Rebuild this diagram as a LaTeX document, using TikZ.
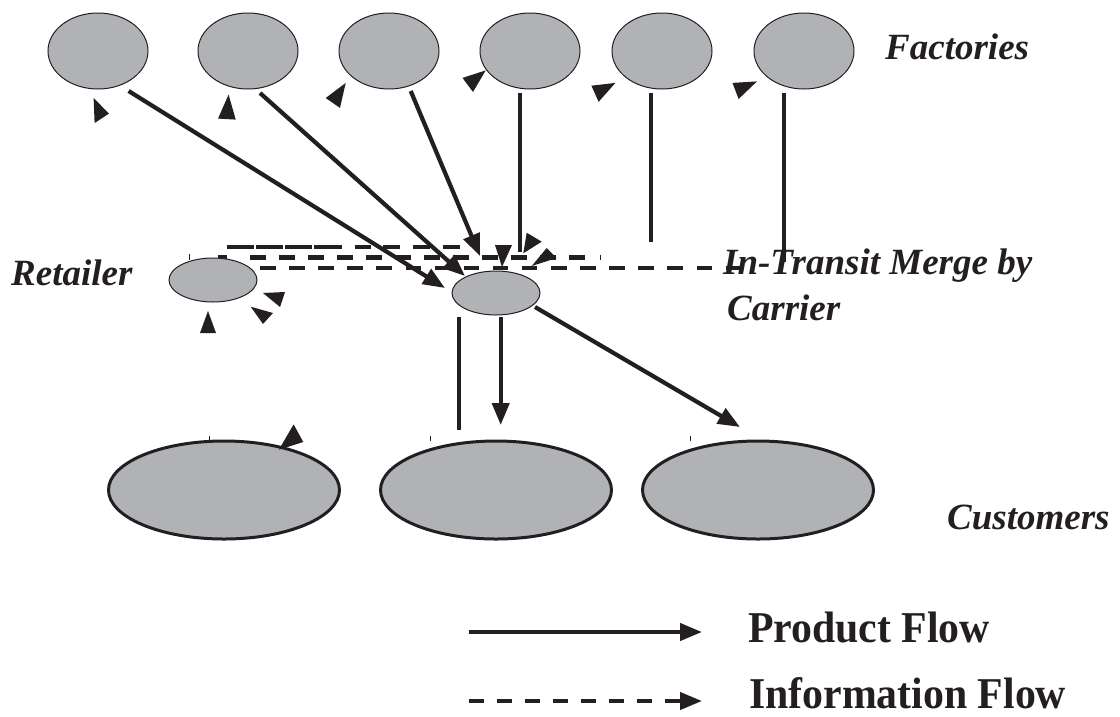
\documentclass[tikz,border=0pt]{standalone}
\usepackage{fontspec}
\setmainfont{Liberation Serif}
\newfontfamily\legendfont[FakeStretch=0.95]{Liberation Serif}
\usetikzlibrary{shapes.geometric,arrows.meta}
\definecolor{ink}{RGB}{35,31,32}
\definecolor{nodegray}{RGB}{177,178,182}
\begin{document}
\begin{tikzpicture}[x=1pt,y=-1pt,
 fac/.style={ellipse,draw=ink,fill=nodegray,line width=1pt,minimum width=100pt,minimum height=76pt,inner sep=0pt},
 smallnode/.style={ellipse,draw=ink,fill=nodegray,line width=1pt,minimum width=88pt,minimum height=44pt,inner sep=0pt},
 cust/.style={ellipse,draw=ink,fill=nodegray,line width=3pt,minimum width=231pt,minimum height=98pt,inner sep=0pt},
 prod/.style={draw=ink,line width=4.2pt},
 prodarrow/.style={prod,-{Triangle[length=22pt,width=17pt]}},
 info/.style={draw=ink,line width=4.2pt,dash pattern=on 16pt off 13pt},
 head/.style={fill=ink},
 lab/.style={font=\fontsize{37}{40}\selectfont\bfseries\itshape,text=ink,inner sep=0pt,anchor=base west},
 leg/.style={font=\legendfont\fontsize{44}{46}\selectfont\bfseries,text=ink,inner sep=0pt,anchor=base west},
 ticker/.style={draw=ink,line width=0.7pt}]
\useasboundingbox (0,0) rectangle (1120,716);

% information flow dashed rows
\draw[info,dash pattern=on 27pt off 2pt on 27pt off 2pt on 27pt off 2pt on 28pt off 13pt on 16pt off 12pt on 17pt off 13pt on 17pt off 13pt on 17pt] (227,247) coordinate (r1a) -- (460,247) coordinate (r1b);
\draw[draw=ink,line width=4.2pt] (218,257.5) coordinate (r2m) -- (227,257.5) coordinate (r2n);
\draw[info] (250,257.5) coordinate (r2a) -- (587,257.5) coordinate (r2b);
\draw[info,dash pattern=on 15.5pt off 13.6pt] (260,268) coordinate (r3a) -- (742,268) coordinate (r3b);
\draw[ticker] (189,254) coordinate (t1a) -- (189,260) coordinate (t1b);
\draw[ticker] (600,255) coordinate (t2a) -- (600,260) coordinate (t2b);

% nodes
\node[fac] (F1) at (98,51) {};
\node[fac] (F2) at (248,51) {};
\node[fac] (F3) at (389,51) {};
\node[fac] (F4) at (530,51) {};
\node[fac] (F5) at (662,51) {};
\node[fac] (F6) at (804,51) {};
\node[smallnode] (R) at (213,280) {};
\node[smallnode] (M) at (496,293) {};
\node[cust] (C1) at (224,490) {};
\node[cust] (C2) at (496,490) {};
\node[cust] (C3) at (758,490) {};

% product flow connectors
\coordinate (f1s) at (128.6,91);  \coordinate (f1e) at (445,288);
\coordinate (f2s) at (260,93);    \coordinate (f2e) at (465,276);
\coordinate (f3s) at (410.7,91);  \coordinate (f3e) at (480,256);
\coordinate (f4s) at (519.6,93);  \coordinate (f4e) at (519.6,252);
\coordinate (f5s) at (650.7,93);  \coordinate (f5e) at (650.7,242);
\coordinate (f6s) at (784,93);    \coordinate (f6e) at (784,262);
\draw[prodarrow] (f1s) -- (f1e);
\draw[prodarrow] (f2s) -- (f2e);
\draw[prodarrow] (f3s) -- (f3e);
\draw[prod] (f4s) -- (f4e);
\draw[prod] (f5s) -- (f5e);
\draw[prod] (f6s) -- (f6e);
\coordinate (m1s) at (459.3,317); \coordinate (m1e) at (459.3,430);
\coordinate (m2s) at (500.7,317); \coordinate (m2e) at (500.7,425);
\coordinate (m3s) at (535,307);   \coordinate (m3e) at (740,427);
\draw[prod] (m1s) -- (m1e);
\draw[prodarrow] (m2s) -- (m2e);
\draw[prodarrow] (m3s) -- (m3e);

% stray arrowheads
\fill[head] (93.6,98) -- (109,113.6) -- (94.6,123) -- cycle;
\fill[head] (218,118.6) -- (228.6,94.6) -- (235.7,119.6) -- cycle;
\fill[head] (325.7,98) -- (345.7,82.9) -- (340,107.9) -- cycle;
\fill[head] (462.5,77.9) -- (485.7,70.4) -- (473,92) -- cycle;
\fill[head] (591.4,85.7) -- (615.4,82.9) -- (598.6,101.8) -- cycle;
\fill[head] (732.5,82.9) -- (757,81.4) -- (738.6,99) -- cycle;
\fill[head] (495,245) -- (512,245) -- (502,267) -- cycle;
\fill[head] (526.7,232.7) -- (541.7,241.7) -- (523.3,253.3) -- cycle;
\fill[head] (546.7,248) -- (556.7,258) -- (531.7,266) -- cycle;
\fill[head] (263,293) -- (285,292) -- (280,307) -- cycle;
\fill[head] (250.7,306.7) -- (273,313) -- (263,324) -- cycle;
\fill[head] (208,311) -- (200,333) -- (216,333) -- cycle;
\fill[head] (278.9,449.7) -- (293.6,424.4) -- (303.3,442) -- cycle;

% ticks above customers
\draw[ticker] (209,436) coordinate (k1a) -- (209,441) coordinate (k1b);
\draw[ticker] (430,436) coordinate (k2a) -- (430,441) coordinate (k2b);
\draw[ticker] (690,436) coordinate (k3a) -- (690,441) coordinate (k3b);

% labels
\node[lab] (tfac) at (885,59) {Factories};
\node[lab] (tret) at (11,285) {Retailer};
\node[lab] (tmerge) at (723,274) {In-Transit Merge by};
\node[lab] (tcar) at (727,320) {Carrier};
\node[lab] (tcus) at (947,529) {Customers};

% legend
\coordinate (lp1) at (469,632); \coordinate (lp2) at (702,632);
\coordinate (li1) at (469,701); \coordinate (li2) at (702,701);
\draw[prodarrow] (lp1) -- (lp2);
\draw[info,dash pattern=on 15pt off 13pt,-{Triangle[length=22pt,width=17pt]}] (li1) -- (li2);
\node[leg] (tprod) at (748,642) {Product Flow};
\node[leg] (tinfo) at (749,708) {Information Flow};
\end{tikzpicture}
\end{document}
